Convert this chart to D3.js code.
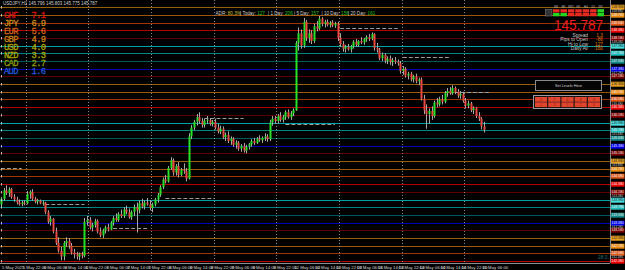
<!DOCTYPE html>
<html>
<head>
<meta charset="utf-8">
<script src="https://cdn.jsdelivr.net/npm/d3@7"></script>
<style>
html, body { margin: 0; padding: 0; background: #000; overflow: hidden; }
svg { display: block; }
</style>
</head>
<body>
<script>
'use strict';

let WIDTH = 625;
let HEIGHT = 270;
let AXIS_X = 610;

// USDJPY H1, 5 May 14:00 .. 15 May 07:00 (one value per candle)
let opens = [
    143.85, 144.00, 144.22, 144.15, 144.25, 144.05, 143.98, 143.90, 143.86, 143.90,
    143.88, 144.12, 144.18, 144.00, 143.92, 143.95, 143.88, 143.90, 143.65, 143.40, 143.48, 143.15, 142.85, 142.65, 142.50, 142.85, 142.90, 142.78, 142.60, 142.55, 142.50, 142.56, 142.52, 143.40,
    143.45, 143.25, 143.32, 143.42, 143.15, 143.05, 143.18, 143.26, 143.20, 143.38, 143.50, 143.45, 143.60, 143.55, 143.72, 143.65, 143.52, 143.66, 143.78, 143.70, 143.88, 143.80, 143.90, 143.85,
    143.76, 143.85, 143.98, 144.10, 144.30, 144.50, 144.45, 144.80, 145.00, 144.68, 144.85, 144.62, 144.75, 144.72, 144.52, 145.62, 145.85, 146.00, 146.12, 146.02, 145.92, 146.03, 146.05, 145.95,
    146.00, 145.85, 145.75, 145.82, 145.60, 145.66, 145.50, 145.56, 145.40, 145.46, 145.30, 145.38, 145.25, 145.35, 145.42, 145.50, 145.45, 145.56, 145.52, 145.58, 145.62, 145.55, 145.98, 146.08,
    146.02, 146.15, 146.05, 146.12, 146.25, 146.12, 146.22, 146.30, 148.05, 148.30, 147.98, 148.60, 148.18, 148.30, 148.10, 148.48, 148.42, 148.68, 148.55, 148.60, 148.52, 148.58, 148.50, 148.55,
    148.18, 148.02, 147.90, 147.95, 147.88, 147.96, 148.08, 148.00, 148.10, 148.06, 148.15, 148.20, 148.16, 148.28, 147.92, 147.88, 147.65, 147.74, 147.58, 147.64, 147.55, 147.60, 147.56, 147.52,
    147.32, 147.38, 147.20, 147.25, 147.10, 147.18, 147.05, 147.10, 146.60, 146.30, 146.20, 146.28, 146.15, 146.50, 146.45, 146.58, 146.52, 146.75, 146.80, 146.74, 146.88, 146.78, 146.68, 146.72,
    146.55, 146.42, 146.48, 146.30, 146.35, 146.15, 146.08, 145.88
];
let highs = [
    144.05, 144.28, 144.35, 144.30, 144.28, 144.12, 144.05, 143.98, 143.95, 143.96,
    144.20, 144.22, 144.25, 144.05, 144.00, 143.98, 143.95, 143.92, 143.70, 143.55, 143.50, 143.25, 143.00, 142.75, 142.90, 143.00, 142.98, 142.85, 142.70, 142.62, 142.60, 142.62, 143.50, 143.55,
    143.52, 143.38, 143.48, 143.46, 143.25, 143.22, 143.30, 143.35, 143.42, 143.55, 143.62, 143.65, 143.72, 143.78, 143.82, 143.75, 143.70, 143.85, 143.90, 143.95, 144.00, 143.95, 144.02, 143.96,
    143.90, 144.02, 144.15, 144.35, 144.55, 144.62, 144.85, 145.08, 145.05, 144.90, 144.95, 144.80, 144.92, 144.80, 145.70, 145.92, 146.05, 146.20, 146.25, 146.10, 146.08, 146.15, 146.10, 146.05,
    146.08, 145.95, 145.90, 145.88, 145.72, 145.75, 145.62, 145.60, 145.52, 145.50, 145.42, 145.45, 145.40, 145.45, 145.55, 145.58, 145.60, 145.65, 145.62, 145.70, 145.68, 146.05, 146.15, 146.15,
    146.20, 146.25, 146.18, 146.30, 146.32, 146.28, 146.35, 148.10, 148.45, 148.40, 148.70, 148.65, 148.40, 148.38, 148.55, 148.62, 148.75, 148.72, 148.65, 148.66, 148.62, 148.64, 148.60, 148.60,
    148.30, 148.10, 148.00, 148.02, 148.00, 148.12, 148.15, 148.12, 148.20, 148.18, 148.25, 148.28, 148.32, 148.30, 148.05, 147.92, 147.80, 147.78, 147.70, 147.72, 147.66, 147.68, 147.62, 147.58,
    147.45, 147.42, 147.30, 147.30, 147.22, 147.25, 147.15, 147.15, 146.70, 146.45, 146.35, 146.40, 146.55, 146.62, 146.65, 146.70, 146.80, 146.88, 146.90, 146.95, 146.92, 146.85, 146.80, 146.78,
    146.62, 146.55, 146.52, 146.40, 146.38, 146.25, 146.12, 146.00
];
let lows = [
    143.80, 143.95, 144.10, 144.05, 144.00, 143.92, 143.85, 143.82, 143.80, 143.83,
    143.85, 144.00, 143.95, 143.88, 143.85, 143.86, 143.82, 143.60, 143.35, 143.30, 143.10, 142.80, 142.60, 142.40, 142.40, 142.75, 142.70, 142.55, 142.45, 142.42, 142.40, 142.45, 142.48, 143.30,
    143.20, 143.15, 143.25, 143.10, 143.00, 142.98, 143.10, 143.15, 143.18, 143.30, 143.40, 143.40, 143.50, 143.50, 143.60, 143.48, 143.45, 143.55, 143.12, 143.62, 143.75, 143.72, 143.82, 143.70,
    143.65, 143.80, 143.90, 144.05, 144.25, 144.40, 144.42, 144.75, 144.60, 144.60, 144.55, 144.58, 144.65, 144.45, 144.50, 145.55, 145.78, 145.90, 145.95, 145.85, 145.85, 145.95, 145.90, 145.88,
    145.80, 145.70, 145.68, 145.55, 145.50, 145.45, 145.40, 145.35, 145.30, 145.25, 145.22, 145.20, 145.18, 145.28, 145.35, 145.40, 145.42, 145.48, 145.45, 145.50, 145.48, 145.50, 145.90, 145.95,
    145.95, 146.00, 145.98, 146.05, 146.08, 146.05, 146.15, 146.28, 147.85, 147.90, 147.92, 148.10, 148.05, 148.02, 148.05, 148.35, 148.38, 148.48, 148.45, 148.48, 148.45, 148.46, 148.44, 148.10,
    147.95, 147.82, 147.80, 147.85, 147.80, 147.90, 147.95, 147.95, 148.02, 148.00, 148.08, 148.10, 148.12, 147.85, 147.80, 147.60, 147.58, 147.52, 147.50, 147.48, 147.45, 147.50, 147.46, 147.25,
    147.22, 147.15, 147.10, 147.05, 147.02, 147.00, 146.95, 146.55, 146.20, 145.82, 145.95, 146.05, 146.10, 146.38, 146.40, 146.45, 146.48, 146.65, 146.70, 146.70, 146.72, 146.62, 146.60, 146.50,
    146.35, 146.35, 146.25, 146.20, 146.10, 146.02, 145.80, 145.72
];
let closes = [
    144.00, 144.22, 144.15, 144.25, 144.05, 143.98, 143.90, 143.86, 143.90, 143.88,
    144.12, 144.18, 144.00, 143.92, 143.95, 143.88, 143.90, 143.65, 143.40, 143.48, 143.15, 142.85, 142.65, 142.50, 142.85, 142.90, 142.78, 142.60, 142.55, 142.50, 142.56, 142.52, 143.40, 143.45,
    143.25, 143.32, 143.42, 143.15, 143.05, 143.18, 143.26, 143.20, 143.38, 143.50, 143.45, 143.60, 143.55, 143.72, 143.65, 143.52, 143.66, 143.78, 143.70, 143.88, 143.80, 143.90, 143.85, 143.76,
    143.85, 143.98, 144.10, 144.30, 144.50, 144.45, 144.80, 145.00, 144.68, 144.85, 144.62, 144.75, 144.72, 144.52, 145.62, 145.85, 146.00, 146.12, 146.02, 145.92, 146.03, 146.05, 145.95, 146.00,
    145.85, 145.75, 145.82, 145.60, 145.66, 145.50, 145.56, 145.40, 145.46, 145.30, 145.38, 145.25, 145.35, 145.42, 145.50, 145.45, 145.56, 145.52, 145.58, 145.62, 145.55, 145.98, 146.08, 146.02,
    146.15, 146.05, 146.12, 146.25, 146.12, 146.22, 146.30, 148.05, 148.30, 147.98, 148.60, 148.18, 148.30, 148.10, 148.48, 148.42, 148.68, 148.55, 148.60, 148.52, 148.58, 148.50, 148.55, 148.18,
    148.02, 147.90, 147.95, 147.88, 147.96, 148.08, 148.00, 148.10, 148.06, 148.15, 148.20, 148.16, 148.28, 147.92, 147.88, 147.65, 147.74, 147.58, 147.64, 147.55, 147.60, 147.56, 147.52, 147.32,
    147.38, 147.20, 147.25, 147.10, 147.18, 147.05, 147.10, 146.60, 146.30, 146.20, 146.28, 146.15, 146.50, 146.45, 146.58, 146.52, 146.75, 146.80, 146.74, 146.88, 146.78, 146.68, 146.72, 146.55,
    146.42, 146.48, 146.30, 146.35, 146.15, 146.08, 145.88, 145.79
];

// time axis labels (candle index, text)
let tickIdx = [0, 8, 16, 24, 32, 40, 48, 56, 64, 72, 80, 88, 96, 104, 112, 120, 128, 136, 144, 152, 160, 168, 176, 184];
let tickLabels = ['5 May 2025', '5 May 22:00', '6 May 06:00', '6 May 14:00', '6 May 22:00', '7 May 06:00',
    '7 May 14:00', '7 May 22:00', '8 May 06:00', '8 May 14:00', '8 May 22:00', '9 May 06:00', '9 May 14:00',
    '9 May 22:00', '12 May 06:00', '12 May 14:00', '12 May 22:00', '13 May 06:00', '13 May 14:00',
    '13 May 22:00', '14 May 06:00', '14 May 14:00', '14 May 22:00', '15 May 06:00'];
// first candle of each new day
let dayStarts = [10, 34, 58, 82, 106, 130, 154, 178];

// horizontal levels, top to bottom
let levelPrices = [148.98, 148.78, 148.58, 148.38, 148.18, 147.98, 147.78, 147.58, 147.38, 147.18,
    146.98, 146.78, 146.58, 146.38, 146.18, 145.98, 145.78, 145.58, 145.38, 145.18,
    144.98, 144.78, 144.58, 144.38, 144.18, 143.98, 143.78, 143.58, 143.38, 143.18,
    142.98, 142.78, 142.58, 142.38];
let levelLineColors = ['#94620e', '#a0560a', '#a03408', '#b40000', '#5c0000', '#00a2a2', '#008484', '#005a5a', '#0000b4', '#620000'];
let levelTagColors = ['#e8a020', '#e88a10', '#e05818', '#ee0000', '#860000', '#48dede', '#22bcbc', '#128a8a', '#0000ee', '#7a0000'];

// previous session high / low markers: price, from candle, to candle
let pivotPrices = [144.80, 143.86, 143.24, 144.02, 146.10, 145.94, 148.43, 147.68, 146.77];
let pivotFrom = [0, 17, 43, 63, 78, 109, 130, 154, 174];
let pivotTo = [8, 32, 56, 82, 93, 128, 152, 172, 187];

// currency strength list
let currencies = ['CHF', 'JPY', 'EUR', 'GBP', 'USD', 'NZD', 'CAD', 'AUD'];
let strengths = ['7.1', '6.9', '5.6', '4.9', '4.0', '3.3', '2.7', '1.6'];
let currencyColors = ['#d81414', '#c98a1c', '#d4601a', '#c8841a', '#b0a400', '#a8a800', '#8c9a00', '#2258d8'];

// ADR line
let adrLabels = ['ADR: ', '| Today: ', '| 1 Day: ', '| 5 Day: ', '| 10 Day: ', '| 20 Day: '];
let adrValues = ['80.3%', '127', '206', '157', '156', '161'];

// info block
let infoLabels = ['Spread', 'Pips to Open', 'Hi to Low', 'Daily Av'];
let infoValues = ['1.3', '-86', '127', '160'];

// strength grid (rows x 7 timeframes)
let gridHeads = ['M1', 'M5', 'M15', 'H1', 'H4', 'D1', 'W1'];
let gridRow1 = [-1, -1, -1, -1, -1, -1, 1];
let gridRow2 = [1, 1, -1, -1, -1, -1, 1];

// plain price-scale labels, sitting between the level tags
let axisTicks = [148.88, 148.08, 147.28, 146.48, 145.68, 144.88, 144.08, 143.28, 142.48];

let x = d3.scaleLinear().domain([0, 185]).range([0.9, 483.75]);
let y = d3.scaleLinear().domain([142.33, 149.10]).range([263, 2.5]);

let svg = d3.select('body')
    .append('svg')
    .attr('width', WIDTH)
    .attr('height', HEIGHT)
    .style('background', '#000')
    .style('font-family', '"Liberation Sans", Arial, sans-serif');

let crisp = (v) => Math.round(v) + 0.5;

// level lines
svg.append('g').selectAll('line')
    .data(levelPrices)
    .enter()
    .append('line')
    .attr('x1', 0)
    .attr('x2', AXIS_X)
    .attr('y1', (d) => crisp(y(d)))
    .attr('y2', (d) => crisp(y(d)))
    .attr('stroke', (d, i) => levelLineColors[i % 10])
    .attr('stroke-width', 1);

// day separators
svg.append('g').selectAll('line')
    .data(dayStarts)
    .enter()
    .append('line')
    .attr('x1', (d) => crisp(x(d) - 1.3))
    .attr('x2', (d) => crisp(x(d) - 1.3))
    .attr('y1', 0)
    .attr('y2', 263)
    .attr('stroke', '#8a8a8a')
    .attr('stroke-dasharray', '1,2');

// previous high/low dashes
svg.append('g').selectAll('line')
    .data(pivotPrices)
    .enter()
    .append('line')
    .attr('x1', (d, i) => x(pivotFrom[i]))
    .attr('x2', (d, i) => x(pivotTo[i]))
    .attr('y1', (d) => crisp(y(d)))
    .attr('y2', (d) => crisp(y(d)))
    .attr('stroke', '#9c9c9c')
    .attr('stroke-dasharray', '4,2');

// candles
let candles = svg.append('g').selectAll('g')
    .data(closes)
    .enter()
    .append('g');

candles.append('line')
    .attr('x1', (d, i) => Math.round(x(i)) + 0.5)
    .attr('x2', (d, i) => Math.round(x(i)) + 0.5)
    .attr('y1', (d, i) => y(highs[i]))
    .attr('y2', (d, i) => y(lows[i]))
    .attr('stroke', '#a8a8a8')
    .attr('stroke-width', 1);

candles.append('rect')
    .attr('x', (d, i) => Math.round(x(i)) - 0.5)
    .attr('width', 2)
    .attr('y', (d, i) => y(Math.max(opens[i], d)))
    .attr('height', (d, i) => Math.max(1, Math.abs(y(opens[i]) - y(d))))
    .attr('fill', (d, i) => d >= opens[i] ? '#28e028' : '#ea4a42');

// price axis
svg.append('line')
    .attr('x1', AXIS_X + 0.5).attr('x2', AXIS_X + 0.5)
    .attr('y1', 0).attr('y2', 263)
    .attr('stroke', '#8c8c8c');

let tags = svg.append('g').selectAll('g')
    .data(levelPrices)
    .enter()
    .append('g');

tags.append('rect')
    .attr('x', AXIS_X + 1)
    .attr('y', (d) => Math.round(y(d)) - 2.3)
    .attr('width', 13.5)
    .attr('height', 5)
    .attr('fill', (d, i) => levelTagColors[i % 10]);

tags.append('text')
    .attr('x', AXIS_X + 1.6)
    .attr('y', (d) => Math.round(y(d)) + 1.3)
    .attr('font-size', 3.35)
    .attr('fill', (d, i) => (i % 10 === 5 || i % 10 === 0) ? '#202020' : '#f0f0f0')
    .text((d) => d.toFixed(3));

svg.append('g').selectAll('text')
    .data(axisTicks)
    .enter()
    .append('text')
    .attr('x', AXIS_X + 1.6)
    .attr('y', (d) => y(d) + 1.2)
    .attr('font-size', 3.2)
    .attr('fill', '#d0d0d0')
    .text((d) => d.toFixed(3));

// left scale ticks
svg.append('g').selectAll('line')
    .data(levelPrices)
    .enter()
    .append('line')
    .attr('x1', 1.5).attr('x2', 1.5)
    .attr('y1', (d) => Math.round(y(d)) - 1)
    .attr('y2', (d) => Math.round(y(d)) + 1.5)
    .attr('stroke', '#bdbdbd');

// time axis
svg.append('line')
    .attr('x1', 0).attr('x2', AXIS_X)
    .attr('y1', 263.5).attr('y2', 263.5)
    .attr('stroke', '#8c8c8c');

svg.append('g').selectAll('text')
    .data(tickIdx)
    .enter()
    .append('text')
    .attr('x', (d) => x(d) + 1)
    .attr('y', 268.5)
    .attr('font-size', 4.3)
    .attr('fill', '#d8d8d8')
    .text((d, i) => tickLabels[i]);

// title
svg.append('text')
    .attr('x', 3).attr('y', 4.8)
    .attr('font-size', 4.5)
    .attr('fill', '#cfcfcf')
    .text('USDJPY,H1  145.796 145.803 145.775 145.787');

// currency strength list
svg.append('g')
    .style('font-family', '"Liberation Mono", "DejaVu Sans Mono", monospace')
    .selectAll('text')
    .data(currencies)
    .enter()
    .append('text')
    .attr('x', 4)
    .attr('y', (d, i) => 17.5 + i * 8)
    .attr('font-size', 8.8)
    .attr('textLength', 42)
    .attr('fill', (d, i) => currencyColors[i])
    .attr('stroke', (d, i) => currencyColors[i])
    .attr('stroke-width', 0.3)
    .attr('xml:space', 'preserve')
    .text((d, i) => d + '   ' + strengths[i]);

// ADR line
let adrX = [215.5, 240, 268, 294, 321.5, 348];
let adrText = svg.append('g').selectAll('text')
    .data(adrLabels)
    .enter()
    .append('text')
    .attr('x', (d, i) => adrX[i])
    .attr('y', 15.2)
    .attr('font-size', 4.6)
    .attr('xml:space', 'preserve');
adrText.append('tspan')
    .attr('fill', '#d0d0d0')
    .text((d) => d);
adrText.append('tspan')
    .attr('fill', (d, i) => i === 0 ? '#c8c030' : '#22c822')
    .text((d, i) => adrValues[i]);

// strength grid
let gridX = d3.scaleBand().domain(d3.range(7)).range([553, 604]).paddingInner(0.12);
svg.append('g').selectAll('text')
    .data(gridHeads)
    .enter()
    .append('text')
    .attr('x', (d, i) => gridX(i) + gridX.bandwidth() / 2)
    .attr('y', 8)
    .attr('text-anchor', 'middle')
    .attr('font-size', 3)
    .attr('fill', '#bdbdbd')
    .text((d) => d);
[gridRow1, gridRow2].forEach((row, r) => {
    svg.append('g').selectAll('rect')
        .data(row)
        .enter()
        .append('rect')
        .attr('x', (d, i) => gridX(i))
        .attr('y', 9.2 + r * 3.8)
        .attr('width', gridX.bandwidth())
        .attr('height', 3.3)
        .attr('fill', (d) => d > 0 ? '#22d622' : '#e82a22');
});
svg.append('rect')
    .attr('x', 545.5).attr('y', 9.5).attr('width', 6.5).attr('height', 6.5)
    .attr('fill', '#333').attr('stroke', '#888').attr('stroke-width', 0.5);

// big price
svg.append('text')
    .attr('x', 603).attr('y', 29.8)
    .attr('text-anchor', 'end')
    .attr('font-size', 15.5)
    .attr('textLength', 49)
    .attr('lengthAdjust', 'spacingAndGlyphs')
    .attr('fill', '#f01c1c')
    .text('145.787');

svg.append('g').selectAll('text')
    .data(infoLabels)
    .enter()
    .append('text')
    .attr('x', 588)
    .attr('y', (d, i) => 36.8 + i * 4.5)
    .attr('text-anchor', 'end')
    .attr('font-size', 4.8)
    .attr('fill', '#c8c8c8')
    .text((d) => d);
svg.append('g').selectAll('text')
    .data(infoValues)
    .enter()
    .append('text')
    .attr('x', 603)
    .attr('y', (d, i) => 36.8 + i * 4.5)
    .attr('text-anchor', 'end')
    .attr('font-size', 4.8)
    .attr('fill', '#e07a10')
    .text((d) => d);

// level buttons
svg.append('rect')
    .attr('x', 535.5).attr('y', 80.5).attr('width', 66).attr('height', 10)
    .attr('fill', '#050505').attr('stroke', '#8a8a8a').attr('stroke-width', 1);
svg.append('text')
    .attr('x', 568.5).attr('y', 87)
    .attr('text-anchor', 'middle')
    .attr('font-size', 3.8)
    .attr('fill', '#cfcfcf')
    .text('Set Levels Here');

svg.append('rect')
    .attr('x', 533.5).attr('y', 95.5).attr('width', 68).attr('height', 13)
    .attr('fill', '#101010').attr('stroke', '#9a9a9a').attr('stroke-width', 1);
let btnX = d3.scaleBand().domain(d3.range(5)).range([535, 600]).paddingInner(0.08);
let btnLabels = [['0', '2', '4', '6', '8'], ['1', '3', '5', '7', '9']];
btnLabels.forEach((row, r) => {
    let g = svg.append('g');
    g.selectAll('rect')
        .data(row)
        .enter()
        .append('rect')
        .attr('x', (d, i) => btnX(i))
        .attr('y', 97 + r * 5.3)
        .attr('width', btnX.bandwidth())
        .attr('height', 4.8)
        .attr('fill', '#e2452e');
    g.selectAll('text')
        .data(row)
        .enter()
        .append('text')
        .attr('x', (d, i) => btnX(i) + btnX.bandwidth() / 2)
        .attr('y', 100.6 + r * 5.3)
        .attr('text-anchor', 'middle')
        .attr('font-size', 3.2)
        .attr('fill', '#7a1a10')
        .text((d) => d);
});

// candle timer
svg.append('text')
    .attr('x', 598).attr('y', 259.3)
    .attr('font-size', 4.8)
    .attr('fill', '#1f7070')
    .text('28 0');
</script>
</body>
</html>
